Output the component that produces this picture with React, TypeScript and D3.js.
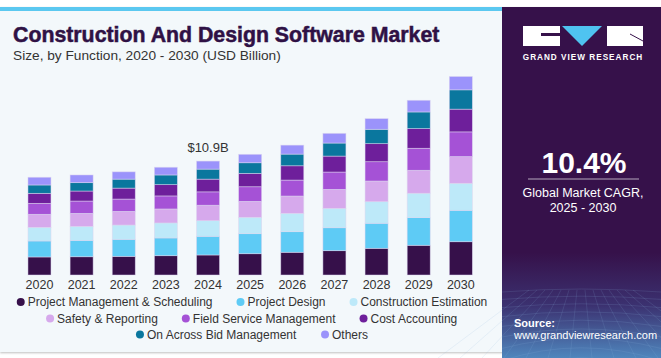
import React from 'react';
import * as d3 from 'd3';

const years = ['2020','2021','2022','2023','2024','2025','2026','2027','2028','2029','2030'];
const seriesNames = ['Project Management & Scheduling','Project Design','Construction Estimation','Safety & Reporting','Field Service Management','Cost Accounting','On Across Bid Management','Others'];
const seriesColors = ['#36104a','#5ecbf5','#bde9f9','#d6a9ec','#a552d6','#6e1f9b','#0a779e','#9b93fb'];

const projectManagement = [1.73,1.75,1.79,1.85,1.92,2.04,2.18,2.33,2.56,2.85,3.19];
const projectDesign     = [1.53,1.57,1.63,1.70,1.79,1.92,1.97,2.20,2.40,2.65,3.01];
const estimation        = [1.31,1.34,1.37,1.44,1.50,1.57,1.76,1.86,2.07,2.34,2.59];
const safetyReporting   = [1.25,1.25,1.31,1.34,1.48,1.53,1.66,1.82,1.98,2.20,2.56];
const fieldService      = [1.05,1.18,1.18,1.25,1.28,1.40,1.53,1.66,1.85,2.11,2.37];
const costAccounting    = [0.96,0.96,1.05,1.08,1.22,1.28,1.37,1.53,1.73,1.88,2.18];
const bidManagement     = [0.80,0.80,0.86,0.93,0.96,1.02,1.12,1.25,1.38,1.60,1.85];
const others            = [0.74,0.74,0.70,0.74,0.77,0.81,0.86,0.93,1.02,1.12,1.28];

const seriesValues = [projectManagement, projectDesign, estimation, safetyReporting, fieldService, costAccounting, bidManagement, others];
const annotatedYear = '2024';
const annotationText = '$10.9B';
const legendRows = [[0,1,2],[3,4,5],[6,7]];

const W = 661, H = 358;
const FONT = "'Liberation Sans', Arial, sans-serif";

export default function App() {
  const rows = years.map((y, i) => {
    const r: any = { year: y };
    seriesNames.forEach((n, k) => { r[n] = seriesValues[k][i]; });
    return r;
  });
  const stack = d3.stack().keys(seriesNames)(rows as any);
  const x = d3.scaleBand().domain(years).range([18.4, 481.9]).paddingInner(0.454).paddingOuter(0.227);
  const y = d3.scaleLinear().domain([0, 10.9]).range([275, 161.3]);

  const annIdx = years.indexOf(annotatedYear);
  const annTop = y(d3.sum(seriesValues, s => s[annIdx]));

  // legend layout
  const legendY = [302, 318.5, 334.5];
  const measure = (t: string) => {
    const c = document.createElement('canvas').getContext('2d')!;
    c.font = `12px ${FONT}`;
    return c.measureText(t).width;
  };
  const gap = 24, dotW = 11;
  const legendItems: any[] = [];
  legendRows.forEach((row, ri) => {
    const widths = row.map(k => dotW + measure(seriesNames[k]));
    const total = d3.sum(widths) + gap * (row.length - 1);
    let cx = 252 - total / 2;
    row.forEach((k, j) => {
      legendItems.push({ k, x: cx, y: legendY[ri] });
      cx += widths[j] + gap;
    });
  });

  return (
    <svg width={W} height={H} style={{ position: 'absolute', left: 0, top: 0 }} fontFamily={FONT}>
      <defs>
        <linearGradient id="panelGrad" x1="0" y1="0" x2="0" y2="1">
          <stop offset="0" stopColor="#36114a" />
          <stop offset="0.7" stopColor="#36114a" />
          <stop offset="0.85" stopColor="#3b3170" />
          <stop offset="1" stopColor="#4f86bd" />
        </linearGradient>
        <filter id="sh" x="-5%" y="-5%" width="110%" height="115%">
          <feDropShadow dx="0" dy="1" stdDeviation="1.2" floodColor="#000" floodOpacity="0.25" />
        </filter>
      </defs>
      <rect x={0} y={0} width={W} height={H} fill="#ffffff" />
      <rect x={0} y={7} width={W} height={345} fill="#f3f8fb" filter="url(#sh)" />
      <rect x={0} y={7} width={502} height={4} fill="#5bc8f0" />

      <text x={13} y={42} fontSize={21.3} fontWeight={700} fill="#2f1145" stroke="#2f1145" strokeWidth={0.5}>Construction And Design Software Market</text>
      <text x={13} y={60} fontSize={13.7} fill="#333">Size, by Function, 2020 - 2030 (USD Billion)</text>

      {stack.map((layer, k) => (
        <g key={k} fill={seriesColors[k]}>
          {layer.map((d: any, i: number) => (
            <rect key={i} x={x(years[i])} width={x.bandwidth()} y={y(d[1])} height={y(d[0]) - y(d[1])}
              stroke="#ddd6f0" strokeWidth={0.7} strokeOpacity={0.7} />
          ))}
        </g>
      ))}

      {years.map(yr => (
        <text key={yr} x={(x(yr) || 0) + x.bandwidth() / 2} y={289} textAnchor="middle" fontSize={12.5} fill="#333">{yr}</text>
      ))}
      <text x={(x(annotatedYear) || 0) + x.bandwidth() / 2} y={annTop - 9} textAnchor="middle" fontSize={13} fill="#333">{annotationText}</text>

      {legendItems.map(it => (
        <g key={it.k}>
          <circle cx={it.x + 4} cy={it.y} r={4} fill={seriesColors[it.k]} />
          <text x={it.x + dotW} y={it.y + 4.3} fontSize={12} fill="#333">{seriesNames[it.k]}</text>
        </g>
      ))}

      {/* right panel */}
      <rect x={502} y={7} width={159} height={351} fill="url(#panelGrad)" />
      <g stroke="#8fb4dc" strokeOpacity={0.25} strokeWidth={0.6} fill="none">
        {d3.range(0, 10).map(i => (
          <path key={'h' + i} d={`M502 ${292 + i * 7 + i * i * 0.4} Q581 ${286 + i * 7} 661 ${292 + i * 7 + i * i * 0.4}`} />
        ))}
        {d3.range(0, 14).map(i => (
          <line key={'v' + i} x1={581 + (i - 6.5) * 8} y1={290} x2={581 + (i - 6.5) * 22} y2={358} />
        ))}
      </g>
      {/* logo */}
      <rect x={523} y={26} width={37} height={20} fill="#fff" />
      <rect x={541} y={33} width={19} height={3} fill="#36114a" />
      <polygon points="562,26 602,26 582,46" fill="#4fc3f0" />
      <rect x={607} y={26} width={36} height={20} fill="#fff" />
      <line x1={630} y1={34} x2={643} y2={41} stroke="#36114a" strokeWidth={1} />
      <text x={583} y={60} textAnchor="middle" fontSize={8.2} fontWeight={700} fill="#fff" style={{ letterSpacing: '1px' }}>GRAND VIEW RESEARCH</text>

      <text x={584} y={173} textAnchor="middle" fontSize={30} fontWeight={700} fill="#fff">10.4%</text>
      <line x1={528} y1={179} x2={639} y2={179} stroke="#fff" strokeWidth={0.8} strokeOpacity={0.8} />
      <text x={583} y={197} textAnchor="middle" fontSize={12.5} fill="#fff">Global Market CAGR,</text>
      <text x={583} y={212} textAnchor="middle" fontSize={12.5} fill="#fff">2025 - 2030</text>

      <text x={514} y={327} fontSize={11} fontWeight={700} fill="#fff">Source:</text>
      <text x={514} y={339} fontSize={11} fill="#fff">www.grandviewresearch.com</text>
    </svg>
  );
}
